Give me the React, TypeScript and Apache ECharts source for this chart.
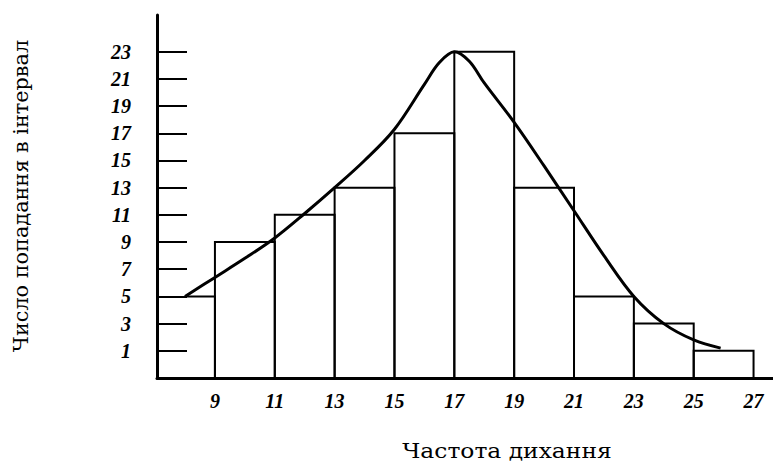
import React, { useEffect, useRef } from "react";
import * as echarts from "echarts";

// Histogram bins (respiratory rate intervals) and counts
const binStarts = [8, 9, 11, 13, 15, 17, 19, 21, 23, 25];
const binEnds = [9, 11, 13, 15, 17, 19, 21, 23, 25, 27];
const counts = [5, 9, 11, 13, 17, 23, 13, 5, 3, 1];

// Fitted smooth curve
const curveX = [8, 9, 10, 11, 12, 13, 14, 15, 16, 16.5, 17, 17.5, 18, 19, 20, 21, 22, 23, 24, 25, 25.9];
const curveY = [5, 6.4, 7.8, 9.3, 11.1, 13, 15, 17.3, 20.6, 22.2, 23, 22.3, 20.7, 17.8, 14.6, 11.3, 8.0, 5.0, 3.0, 1.8, 1.2];

// Tick labels
const yTicks = [1, 3, 5, 7, 9, 11, 13, 15, 17, 19, 21, 23];
const xTicks = [9, 11, 13, 15, 17, 19, 21, 23, 25, 27];

const yAxisTitle = "Число попадання в інтервал";
const xAxisTitle = "Частота дихання";

const Y_MIN = -1;
const Y_MAX = 25.7;
const X_MIN = 7.064;
const X_MAX = 27.65;

export default function App() {
  const ref = useRef<HTMLDivElement>(null);
  useEffect(() => {
    if (!ref.current) return;
    const chart = echarts.init(ref.current, null, { renderer: "svg" });
    const barData = binStarts.map((s, i) => [s, binEnds[i], counts[i]]);
    const curveData = curveX.map((x, i) => [x, curveY[i]]);
    const labelFont = {
      fontFamily: "Liberation Serif",
      fontStyle: "italic" as const,
      fontWeight: "bold" as const,
      fontSize: 20,
      color: "#000",
    };
    chart.setOption({
      animation: false,
      backgroundColor: "#fff",
      grid: { left: 157, right: 0, top: 15, bottom: 86, containLabel: false },
      xAxis: {
        type: "value",
        min: X_MIN,
        max: X_MAX,
        splitLine: { show: false },
        axisLine: { show: true, onZero: false, lineStyle: { color: "#000", width: 3 } },
        axisTick: { show: false },
        axisLabel: {
          ...labelFont,
          margin: 13,
          customValues: xTicks,
          formatter: (v: number) => String(v),
        },
      },
      yAxis: {
        type: "value",
        min: Y_MIN,
        max: Y_MAX,
        splitLine: { show: false },
        axisLine: { show: true, onZero: false, lineStyle: { color: "#000", width: 3 } },
        axisTick: {
          show: true,
          inside: true,
          length: 30,
          customValues: yTicks,
          lineStyle: { color: "#000", width: 2 },
        },
        axisLabel: {
          ...labelFont,
          margin: 26,
          customValues: yTicks,
          formatter: (v: number) => String(v),
        },
      },
      series: [
        {
          type: "custom",
          data: barData,
          encode: { x: [0, 1], y: 2 },
          renderItem: (params: any, api: any) => {
            const x0 = api.value(0);
            const x1 = api.value(1);
            const h = api.value(2);
            const b0 = api.coord([x0, Y_MIN]);
            const t0 = api.coord([x0, h]);
            const t1 = api.coord([x1, h]);
            const b1 = api.coord([x1, Y_MIN]);
            const pts = params.dataIndex === 0 ? [t0, t1, b1] : [b0, t0, t1, b1];
            return {
              type: "polyline",
              shape: { points: pts },
              style: { stroke: "#000", lineWidth: 2, fill: "none" },
            };
          },
          z: 2,
        },
        {
          type: "line",
          data: curveData,
          smooth: 0.35,
          symbol: "none",
          lineStyle: { color: "#000", width: 3 },
          z: 3,
        },
      ],
      graphic: [
        {
          type: "text",
          x: 21,
          y: 196,
          rotation: Math.PI / 2,
          scaleX: 1.04,
          style: {
            text: yAxisTitle,
            fontFamily: "DejaVu Serif",
            fontSize: 20,
            fill: "#000",
            align: "center",
            verticalAlign: "middle",
          },
        },
        {
          type: "text",
          x: 507,
          y: 451,
          scaleX: 1.17,
          style: {
            text: xAxisTitle,
            fontFamily: "DejaVu Serif",
            fontSize: 20,
            fill: "#000",
            align: "center",
            verticalAlign: "middle",
          },
        },
      ],
    });
    return () => chart.dispose();
  }, []);
  return <div ref={ref} style={{ width: 773, height: 464, position: "absolute", left: 0, top: 0 }} />;
}
